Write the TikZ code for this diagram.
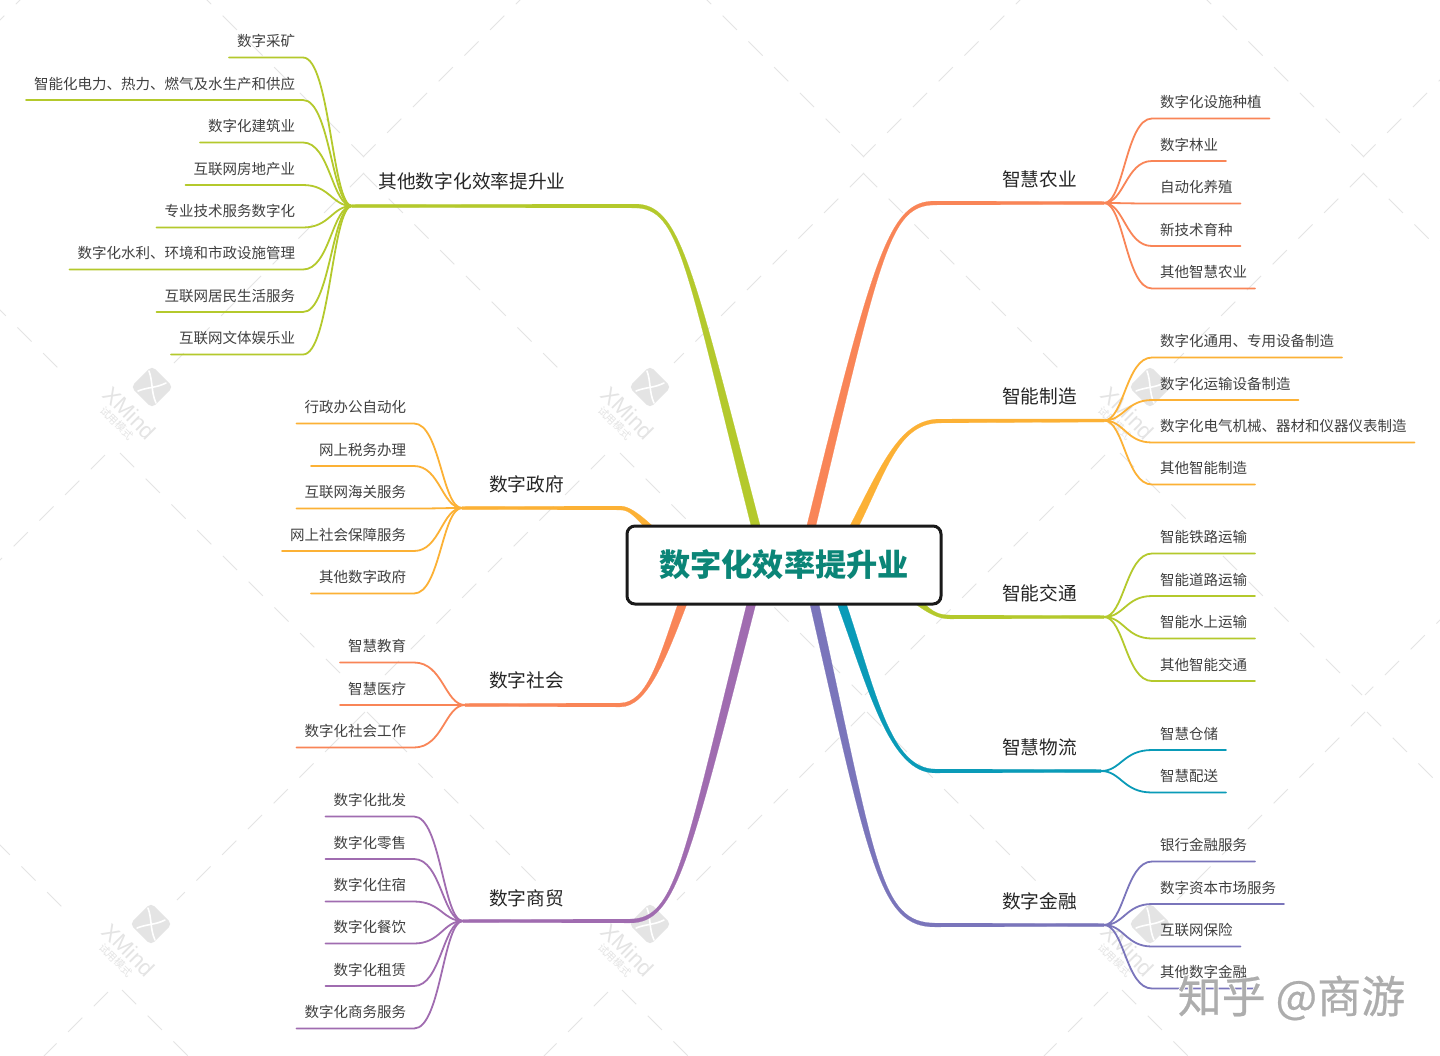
\documentclass[tikz,border=0pt]{standalone}
\usepackage{fontspec}
\setmainfont{Noto Sans CJK SC}
\newfontfamily\wmfont{Liberation Sans}
\usetikzlibrary{calc,backgrounds}
\definecolor{coral}{HTML}{F98557}
\definecolor{amber}{HTML}{FCB135}
\definecolor{lime}{HTML}{B4C92C}
\definecolor{teal2}{HTML}{0A9BB8}
\definecolor{peri}{HTML}{7A75BB}
\definecolor{plum}{HTML}{A06CB0}
\definecolor{roottxt}{HTML}{0B8577}
\definecolor{latt}{HTML}{E4E4E4}
\definecolor{wm}{HTML}{E4E4E4}
\tikzset{
  leaftext/.style={inner xsep=4pt,inner ysep=0pt,outer sep=0pt,minimum height=16.5pt,text=black!75,font=\fontsize{7.25}{9}\selectfont},
  branchtext/.style={inner sep=0pt,outer sep=0pt,text=black!85,font=\fontsize{9.35}{11}\selectfont},
  rootbox/.style={draw=black!90,fill=white,line width=1.5pt,rounded corners=4pt,outer sep=0pt,inner sep=0pt,minimum width=157pt,minimum height=39pt,text=roottxt,font=\fontsize{15.6}{18}\selectfont\bfseries},
  leafline/.style={line width=0.9pt,line cap=round},
  lattline/.style={draw=latt,line width=0.5pt,dash pattern=on 10pt off 8.2pt},
  wmtext/.style={inner sep=0pt,outer sep=0pt,text=wm,rotate=-45},
  wmbox/.style={fill=wm,rounded corners=2.5pt,rotate=45,minimum size=15pt,inner sep=0pt,outer sep=0pt}
}
\newcommand{\leafR}[5]{%
  \node[leaftext,anchor=west] (#1) at (1152,#2) {\raisebox{-2.75pt}[0pt][0pt]{#3}};
  \begin{pgfonlayer}{background}
  \draw[leafline,draw=#4] (#5) .. controls ($(#5)+(20,0)$) and ($(#5|-#1.south)+(22,0)$) .. (#1.south west) -- (#1.south east);
  \end{pgfonlayer}}
\newcommand{\leafL}[6]{%
  \node[leaftext,anchor=east] (#1) at (#6,#2) {\raisebox{-2.75pt}[0pt][0pt]{#3}};
  \begin{pgfonlayer}{background}
  \draw[leafline,draw=#4] (#5) .. controls ($(#5)+(-20,0)$) and ($(#5|-#1.south)+(-22,0)$) .. (#1.south east) -- (#1.south west);
  \end{pgfonlayer}}
\newcommand{\taper}[7]{%
  \begin{pgfonlayer}{background}
  \draw[fill=#1,draw=#1,line width=0.1pt]
    ($(root.#2)+(-4.5,0)$) .. controls ($(#3)+(-3.5,0)$) and ($(#4)+(0,{-2.2*#7})$) .. ($(#5)+(0,{-1.9*#7})$)
    -- ($(#6)+(0,{-1.5*#7})$) -- ($(#6)+(0,{1.5*#7})$) -- ($(#5)+(0,{1.9*#7})$)
    .. controls ($(#4)+(0,{2.2*#7})$) and ($(#3)+(3.5,0)$) .. ($(root.#2)+(4.5,0)$) -- cycle;
  \end{pgfonlayer}}
\newcommand{\xlogo}[3]{%
  \begin{pgfonlayer}{background}
  \node[wmbox] (wmb#1) at (#2,#3) {};
  \draw[white,line width=0.8pt,line cap=round] ($(wmb#1)+(-3,-16)$) .. controls ($(wmb#1)+(1,-5)$) and ($(wmb#1)+(-1,5)$) .. ($(wmb#1)+(4,16)$);
  \draw[white,line width=0.8pt,line cap=round] ($(wmb#1)+(-14,4)$) .. controls ($(wmb#1)+(-4,0)$) and ($(wmb#1)+(4,1)$) .. ($(wmb#1)+(14,-4)$);
  \node[wmtext,font=\wmfont\fontsize{11.2}{12}\selectfont] (wmx#1) at ($(wmb#1)+(-22,26)$) {XMind};
  \node[wmtext,font=\fontsize{5.2}{6}\selectfont] (wms#1) at ($(wmb#1)+(-35,36)$) {试用模式};
  \end{pgfonlayer}}
\begin{document}
\begin{tikzpicture}[x=0.5pt,y=-0.5pt]
\useasboundingbox (0,0) rectangle (1440,1055);
\begin{pgfonlayer}{background}
  \fill[white] (0,0) rectangle (1440,1055);
  \begin{scope}
    \clip (0,0) rectangle (1440,1055);
    \foreach \base in {20,520,1020,1520,2020}{
      \foreach \off/\ya/\yb in {0/-10/157,17/173/363,40/455/695,57/712/900,80/992/1060}{
        \pgfmathsetmacro{\xa}{\base+\off-\ya}
        \pgfmathsetmacro{\xb}{\base+\off-\yb}
        \draw[lattline] (\xa,\ya) -- (\xb,\yb);
      }
    }
    \foreach \base in {-1293,-793,-293,207,707,1207}{
      \foreach \off/\ya/\yb in {0/-10/157,-17/173/378,-40/453/695,-52/712/915,-75/990/1060}{
        \pgfmathsetmacro{\xa}{\base+\off+\ya}
        \pgfmathsetmacro{\xb}{\base+\off+\yb}
        \draw[lattline] (\xa,\ya) -- (\xb,\yb);
      }
    }
  \end{scope}
\end{pgfonlayer}
\xlogo{a}{152}{387}
\xlogo{b}{650}{387}
\xlogo{c}{1150}{387}
\xlogo{d}{151}{924}
\xlogo{e}{650}{924}
\xlogo{f}{1150}{924}

\node[rootbox] (root) at (784,565) {数字化效率提升业};

\node[branchtext] (bA) at (1039.5,179.5) {智慧农业};
\node[branchtext] (bB) at (1039.5,396.5) {智能制造};
\node[branchtext] (bC) at (1039.5,593.5) {智能交通};
\node[branchtext] (bD) at (1039.5,747.5) {智慧物流};
\node[branchtext] (bE) at (1039.5,901.5) {数字金融};
\node[branchtext] (bF) at (472,181.5) {其他数字化效率提升业};
\node[branchtext] (bG) at (526.5,484.5) {数字政府};
\node[branchtext] (bH) at (526.5,680.5) {数字社会};
\node[branchtext] (bI) at (526.5,898.5) {数字商贸};

\coordinate (hA) at (1104,203);
\coordinate (hB) at (1104,420.5);
\coordinate (hC) at (1104,617);
\coordinate (hD) at (1101,771);
\coordinate (hE) at (1104,925);
\coordinate (hF) at (352,206);
\coordinate (hG) at (462,508);
\coordinate (hH) at (465,705);
\coordinate (hI) at (463,921);

\taper{coral}{55.7}{878,250}{890,203}{935,203}{hA}{1}
\taper{amber}{29.2}{885,465}{900,421}{940,421}{hB}{1}
\taper{lime}{344.3}{930,612}{938,617}{950,617}{hC}{-1}
\taper{teal2}{326.5}{872,690}{890,771}{935,771}{hD}{-1}
\taper{peri}{308.5}{873,866}{880,925}{935,925}{hE}{-1}
\taper{lime}{126}{689,266}{680,206}{635,206}{hF}{-1}
\taper{amber}{164}{635,513}{628,508}{620,508}{hG}{-1}
\taper{coral}{201.5}{662,660}{647,705}{620,705}{hH}{1}
\taper{plum}{230.3}{686,862}{676,921}{630,921}{hI}{1}

\leafR{a1}{102}{数字化设施种植}{coral}{hA}
\leafR{a2}{144.5}{数字林业}{coral}{hA}
\leafR{a3}{187}{自动化养殖}{coral}{hA}
\leafR{a4}{229.5}{新技术育种}{coral}{hA}
\leafR{a5}{272}{其他智慧农业}{coral}{hA}
\leafR{b1}{341}{数字化通用、专用设备制造}{amber}{hB}
\leafR{b2}{383.5}{数字化运输设备制造}{amber}{hB}
\leafR{b3}{426}{数字化电气机械、器材和仪器仪表制造}{amber}{hB}
\leafR{b4}{468}{其他智能制造}{amber}{hB}
\leafR{c1}{537}{智能铁路运输}{lime}{hC}
\leafR{c2}{579.5}{智能道路运输}{lime}{hC}
\leafR{c3}{622}{智能水上运输}{lime}{hC}
\leafR{c4}{664.5}{其他智能交通}{lime}{hC}
\leafR{d1}{733.5}{智慧仓储}{teal2}{hD}
\leafR{d2}{776}{智慧配送}{teal2}{hD}
\leafR{e1}{845}{银行金融服务}{peri}{hE}
\leafR{e2}{887.5}{数字资本市场服务}{peri}{hE}
\leafR{e3}{930}{互联网保险}{peri}{hE}
\leafR{e4}{972}{其他数字金融}{peri}{hE}

\leafL{f1}{41}{数字采矿}{lime}{hF}{303}
\leafL{f2}{83.5}{智能化电力、热力、燃气及水生产和供应}{lime}{hF}{303}
\leafL{f3}{126}{数字化建筑业}{lime}{hF}{303}
\leafL{f4}{168.5}{互联网房地产业}{lime}{hF}{303}
\leafL{f5}{211}{专业技术服务数字化}{lime}{hF}{303}
\leafL{f6}{253}{数字化水利、环境和市政设施管理}{lime}{hF}{303}
\leafL{f7}{295.5}{互联网居民生活服务}{lime}{hF}{303}
\leafL{f8}{338}{互联网文体娱乐业}{lime}{hF}{303}
\leafL{g1}{407}{行政办公自动化}{amber}{hG}{414}
\leafL{g2}{449.5}{网上税务办理}{amber}{hG}{414}
\leafL{g3}{492}{互联网海关服务}{amber}{hG}{414}
\leafL{g4}{534.5}{网上社会保障服务}{amber}{hG}{414}
\leafL{g5}{577}{其他数字政府}{amber}{hG}{414}
\leafL{h1}{646}{智慧教育}{coral}{hH}{414}
\leafL{h2}{688.5}{智慧医疗}{coral}{hH}{414}
\leafL{h3}{731}{数字化社会工作}{coral}{hH}{414}
\leafL{i1}{800}{数字化批发}{plum}{hI}{414}
\leafL{i2}{842.5}{数字化零售}{plum}{hI}{414}
\leafL{i3}{885}{数字化住宿}{plum}{hI}{414}
\leafL{i4}{927}{数字化餐饮}{plum}{hI}{414}
\leafL{i5}{969.5}{数字化租赁}{plum}{hI}{414}
\leafL{i6}{1012}{数字化商务服务}{plum}{hI}{414}

\node[inner sep=0pt,outer sep=0pt,text=white,font=\addfontfeature{FakeBold=4}\fontsize{22}{24}\selectfont] (zhb) at (1291.5,998) {知乎 @商游};
\node[inner sep=0pt,outer sep=0pt,text=black!32,font=\addfontfeature{FakeBold=0.5}\fontsize{22}{24}\selectfont] (zh) at (1291.5,998) {知乎 @商游};
\end{tikzpicture}
\end{document}
